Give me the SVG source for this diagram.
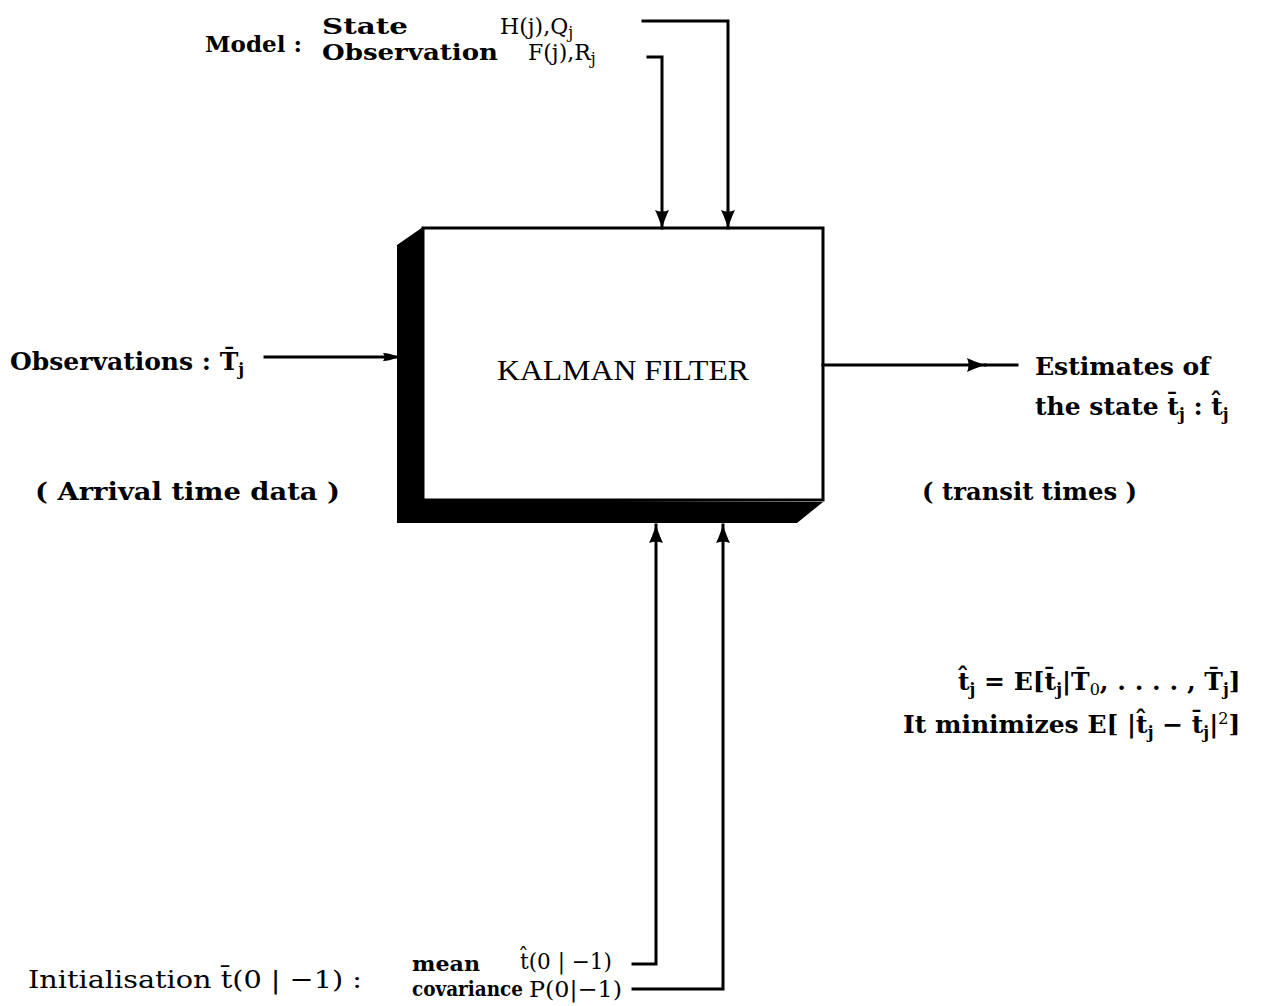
<svg xmlns="http://www.w3.org/2000/svg" width="1269" height="1006" viewBox="0 0 1269 1006">
<style>
.t{font-family:"DejaVu Serif","Liberation Serif",serif;font-weight:bold;font-size:25px;fill:#000}
.r{font-family:"DejaVu Serif","Liberation Serif",serif;font-weight:normal;font-size:22px;fill:#000}
.s{font-size:16px}
.k{font-family:"Liberation Serif",serif;font-size:30px;fill:#000}
.ln{fill:none;stroke:#000;stroke-width:3;stroke-linecap:square;stroke-linejoin:miter}
</style>
<defs>
<marker id="ah" markerWidth="20" markerHeight="16" refX="18" refY="8" orient="auto" markerUnits="userSpaceOnUse">
<path d="M0,1 Q6,4 18,8 Q6,12 0,15 Q3,8 0,1 Z" fill="#000"/>
</marker>
<marker id="as" markerWidth="16" markerHeight="12" refX="15" refY="6" orient="auto" markerUnits="userSpaceOnUse">
<path d="M0,2 Q7,2 15,6 Q7,10 0,10 Q3,6 0,2 Z" fill="#000"/>
</marker>
</defs>
<g id="kalman-filter">
<polygon points="423,227 397,245 397,523 797,523 823,502 423,500" fill="#000"/>
<rect x="423" y="228" width="400" height="272" fill="#fff" stroke="#000" stroke-width="3"/>
<text class="k" x="497" y="380" textLength="252" lengthAdjust="spacingAndGlyphs">KALMAN FILTER</text>
</g>
<g id="model">
<text class="t" x="205" y="52" style="font-size:23px" textLength="97" lengthAdjust="spacingAndGlyphs">Model :</text>
<text class="t" x="322" y="34" style="font-size:22px" textLength="86" lengthAdjust="spacingAndGlyphs">State</text>
<text class="t" x="322" y="60" style="font-size:22px" textLength="176" lengthAdjust="spacingAndGlyphs">Observation</text>
<text class="r" x="500" y="34">H(j),Q<tspan class="s" dy="4">j</tspan></text>
<text class="r" x="528" y="60">F(j),R<tspan class="s" dy="4">j</tspan></text>
</g>
<g id="observations">
<text class="t" x="10" y="370">Observations : T̄<tspan class="s" dy="5">j</tspan></text>
<text class="t" x="35" y="500" textLength="305" lengthAdjust="spacingAndGlyphs">( Arrival time data )</text>
</g>
<g id="estimates">
<text class="t" x="1035" y="375" textLength="175" lengthAdjust="spacingAndGlyphs">Estimates of</text>
<text class="t" x="1035" y="415">the state t̄<tspan class="s" dy="5">j</tspan><tspan dy="-5"> : t̂</tspan><tspan class="s" dy="5">j</tspan></text>
<text class="t" x="922" y="500" textLength="215" lengthAdjust="spacingAndGlyphs">( transit times )</text>
</g>
<g id="equations">
<text class="t" x="958" y="690">t̂<tspan class="s" dy="5">j</tspan><tspan dy="-5"> = E[t̄</tspan><tspan class="s" dy="5">j</tspan><tspan dy="-5">|T̄</tspan><tspan class="s" dy="5" font-weight="normal">0</tspan><tspan dy="-5">, . . . . , T̄</tspan><tspan class="s" dy="5">j</tspan><tspan dy="-5">]</tspan></text>
<text class="t" x="903" y="733">It minimizes E[ |t̂<tspan class="s" dy="5">j</tspan><tspan dy="-5"> − t̄</tspan><tspan class="s" dy="5">j</tspan><tspan dy="-5">|</tspan><tspan class="s" dy="-9" font-weight="normal">2</tspan><tspan dy="9">]</tspan></text>
</g>
<g id="initialisation">
<text class="r" x="28" y="988" style="font-size:25px" textLength="334" lengthAdjust="spacingAndGlyphs">Initialisation t̄(0 | −1) :</text>
<text class="t" x="412" y="971" style="font-size:20px" textLength="68" lengthAdjust="spacingAndGlyphs">mean</text>
<text class="t" x="412" y="996" style="font-size:20px" textLength="111" lengthAdjust="spacingAndGlyphs">covariance</text>
<text class="r" x="520" y="969" textLength="92" lengthAdjust="spacingAndGlyphs">t̂(0 | −1)</text>
<text class="r" x="529" y="997" style="font-size:23px" textLength="93" lengthAdjust="spacingAndGlyphs">P(0|−1)</text>
</g>
<g id="connectors">
<path class="ln" d="M643,21 H728 V228" marker-end="url(#ah)"/>
<path class="ln" d="M648,57 H662 V228" marker-end="url(#ah)"/>
<path class="ln" d="M633,964 H656 V525" marker-end="url(#ah)"/>
<path class="ln" d="M633,989 H723 V525" marker-end="url(#ah)"/>
<path class="ln" d="M265,357 H398" marker-end="url(#as)"/>
<path class="ln" d="M823,365 H985" marker-end="url(#ah)"/>
<path class="ln" d="M985,365 H1017"/>
</g>
</svg>
